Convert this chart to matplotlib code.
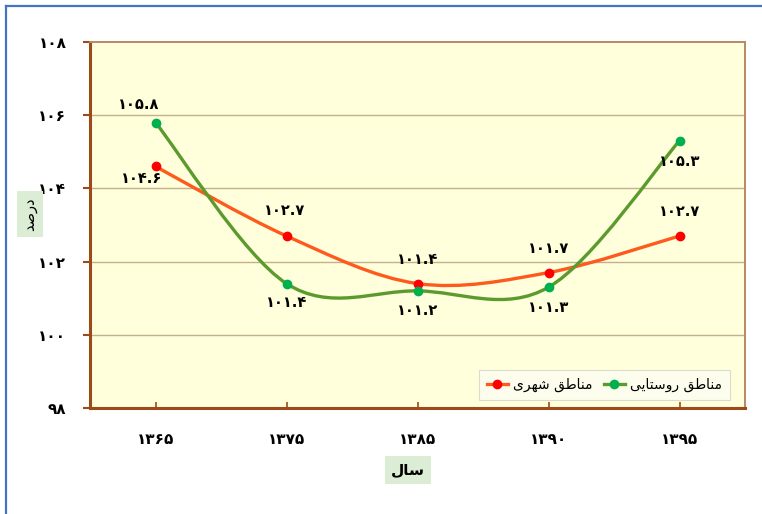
import matplotlib
matplotlib.use("Agg")
import matplotlib.pyplot as plt
from matplotlib.path import Path
from matplotlib.patches import PathPatch
from matplotlib.lines import Line2D

# data
years = ["1365", "1375", "1385", "1390", "1395"]
urban = [104.6, 102.7, 101.4, 101.7, 102.7]
rural = [105.8, 101.4, 101.2, 101.3, 105.3]
urban_name = "مناطق شهری"
rural_name = "مناطق روستایی"
y_ticks = [98, 100, 102, 104, 106, 108]
x_title = "سال"
y_title = "درصد"

# simple arabic/persian shaping (matplotlib has no bidi/shaping)
FORMS = {
    "ا": ("\uFE8D", "\uFE8E", None, None),
    "د": ("\uFEA9", "\uFEAA", None, None),
    "ر": ("\uFEAD", "\uFEAE", None, None),
    "و": ("\uFEED", "\uFEEE", None, None),
    "م": ("\uFEE1", "\uFEE2", "\uFEE3", "\uFEE4"),
    "ن": ("\uFEE5", "\uFEE6", "\uFEE7", "\uFEE8"),
    "ط": ("\uFEC1", "\uFEC2", "\uFEC3", "\uFEC4"),
    "ق": ("\uFED5", "\uFED6", "\uFED7", "\uFED8"),
    "ش": ("\uFEB5", "\uFEB6", "\uFEB7", "\uFEB8"),
    "ه": ("\uFEE9", "\uFEEA", "\uFEEB", "\uFEEC"),
    "ی": ("\uFBFC", "\uFBFD", "\uFBFE", "\uFBFF"),
    "س": ("\uFEB1", "\uFEB2", "\uFEB3", "\uFEB4"),
    "ت": ("\uFE95", "\uFE96", "\uFE97", "\uFE98"),
    "ص": ("\uFEB9", "\uFEBA", "\uFEBB", "\uFEBC"),
    "ل": ("\uFEDD", "\uFEDE", "\uFEDF", "\uFEE0"),
}


def shape(text):
    out_words = []
    for word in text.split(" "):
        chars = list(word)
        res = []
        for i, c in enumerate(chars):
            f = FORMS.get(c)
            if f is None:
                res.append(c)
                continue
            prev_joins = i > 0 and chars[i - 1] in FORMS and FORMS[chars[i - 1]][2] is not None
            next_ok = i < len(chars) - 1 and chars[i + 1] in FORMS and f[2] is not None
            if prev_joins and next_ok:
                res.append(f[3])
            elif prev_joins:
                res.append(f[1])
            elif next_ok:
                res.append(f[2])
            else:
                res.append(f[0])
        out_words.append("".join(res)[::-1])
    return " ".join(out_words[::-1])


def fa(s):
    return "".join(chr(0x06F0 + int(c)) if c.isdigit() else c for c in str(s))


def smooth_path(xs, ys):
    pts = list(zip(xs, ys))
    verts = [pts[0]]
    codes = [Path.MOVETO]
    n = len(pts)
    for i in range(n - 1):
        p0 = pts[max(i - 1, 0)]
        p1 = pts[i]
        p2 = pts[i + 1]
        p3 = pts[min(i + 2, n - 1)]
        c1 = (p1[0] + (p2[0] - p0[0]) / 6, p1[1] + (p2[1] - p0[1]) / 6)
        c2 = (p2[0] - (p3[0] - p1[0]) / 6, p2[1] - (p3[1] - p1[1]) / 6)
        verts += [c1, c2, p2]
        codes += [Path.CURVE4] * 3
    return Path(verts, codes)


plt.rcParams['font.family'] = ['DejaVu Sans']

fig = plt.figure(figsize=(7.62, 5.14), dpi=100)
ax = fig.add_axes([90 / 762, 106 / 514, 655 / 762, 366 / 514])
ax.set_facecolor("#FFFFDC")

x = list(range(len(years)))
ax.set_xlim(-0.5, len(years) - 0.5)
ax.set_ylim(98, 108)

for t in y_ticks[1:-1]:
    ax.axhline(t, color="#C4B08A", lw=1.0, zorder=1)

red_line, red_mk = "#FF5A1E", "#FF0000"
green_line, green_mk = "#5B9A2C", "#00B04F"

ax.add_patch(PathPatch(smooth_path(x, urban), facecolor="none", edgecolor=red_line, lw=2.4, zorder=3))
ax.plot(x, urban, ls="none", marker="o", ms=6, color=red_mk, zorder=4)
ax.add_patch(PathPatch(smooth_path(x, rural), facecolor="none", edgecolor=green_line, lw=2.4, zorder=3))
ax.plot(x, rural, ls="none", marker="o", ms=6, color=green_mk, zorder=4)

# data labels
lab_kw = dict(fontsize=10.5, fontweight="bold", ha="center", va="center", zorder=5)
urban_off = [(-14, -12), (-2, 25), (0, 24), (0, 24), (0, 24)]
rural_off = [(-17, 18), (0, -19), (0, -20), (0, -20), (0, -21)]
for i in x:
    ax.annotate(fa(urban[i]), (i, urban[i]), xytext=urban_off[i], textcoords="offset pixels", **lab_kw)
    ax.annotate(fa(rural[i]), (i, rural[i]), xytext=rural_off[i], textcoords="offset pixels", **lab_kw)

ax.set_xticks(x)
ax.set_xticklabels([fa(y) for y in years], fontsize=11, fontweight="bold")
ax.set_yticks(y_ticks)
ax.set_yticklabels([fa(t) for t in y_ticks], fontsize=11, fontweight="bold")
ax.tick_params(axis="y", direction="out", length=5, width=1.5, color="#9C4A1A", pad=12)
ax.tick_params(axis="x", direction="in", length=4, width=1.2, color="#9C4A1A", pad=17)

for side in ("left", "bottom"):
    ax.spines[side].set_color("#9C4A1A")
    ax.spines[side].set_linewidth(2.2)
for side in ("top", "right"):
    ax.spines[side].set_color("#B98866")
    ax.spines[side].set_linewidth(1.4)

box = dict(boxstyle="square,pad=0.4", facecolor="#DCEDD5", edgecolor="none")
fig.text(30 / 762, 1 - 214 / 514, shape(y_title), rotation=90, fontsize=10.5,
         ha="center", va="center", bbox=box)
fig.text(408 / 762, 1 - 470 / 514, shape(x_title), fontsize=11, fontweight="bold",
         ha="center", va="center", bbox=box)

handles = [
    Line2D([], [], color=red_line, lw=2.4, marker="o", ms=6, mfc=red_mk, mec=red_mk),
    Line2D([], [], color=green_line, lw=2.4, marker="o", ms=6, mfc=green_mk, mec=green_mk),
]
leg = ax.legend(handles, [shape(urban_name), shape(rural_name)], ncol=2,
                loc="lower right", bbox_to_anchor=(0.977, 0.022), borderaxespad=0,
                fontsize=10, frameon=True, fancybox=False, handlelength=1.5,
                handletextpad=0.4, columnspacing=0.8, borderpad=0.55)
leg.get_frame().set_facecolor("#FDFDF2")
leg.get_frame().set_edgecolor("#D4D4C8")
leg.get_frame().set_linewidth(0.8)

# blue frame around the figure
fig.add_artist(Line2D([6 / 762, 6 / 762], [0, 1 - 6 / 514], color="#4472C4", lw=1.6))
fig.add_artist(Line2D([6 / 762, 1], [1 - 6 / 514, 1 - 6 / 514], color="#4472C4", lw=1.6))

fig.savefig("out.png", dpi=100, facecolor="white")
